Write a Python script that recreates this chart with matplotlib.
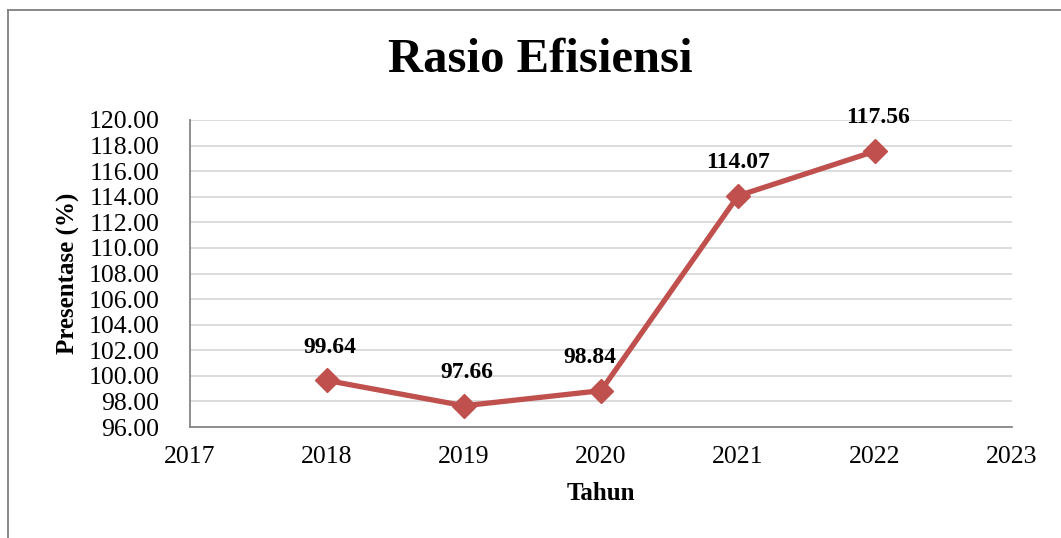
import matplotlib.pyplot as plt
from matplotlib.lines import Line2D

# data
years = [2018, 2019, 2020, 2021, 2022]
rasio = [99.64, 97.66, 98.84, 114.07, 117.56]
labels = ['99.64', '97.66', '98.84', '114.07', '117.56']
x_ticks = [2017, 2018, 2019, 2020, 2021, 2022, 2023]
y_ticks = [96, 98, 100, 102, 104, 106, 108, 110, 112, 114, 116, 118, 120]

plt.rcParams['font.family'] = ['Liberation Serif', 'DejaVu Serif']

fig = plt.figure(figsize=(10.61, 5.38), dpi=100)
ax = fig.add_axes([190 / 1061, 1 - 427 / 538, (1012 - 190) / 1061, (427 - 120) / 538])

ax.plot(years, rasio, color='#C0504D', linewidth=3.8, marker='D', markersize=12, zorder=3)
# small nudges so labels sit like the original
nudge = [2, 2, -8, 0, 2]
for x, y, s, dx in zip(years, rasio, labels, nudge):
    ax.annotate(s, (x, y), xytext=(dx, 24), textcoords='offset points',
                ha='center', va='center', fontsize=17, fontweight='bold')

ax.set_xlim(2017, 2023)
ax.set_ylim(96, 120)
ax.set_xticks(x_ticks)
ax.set_yticks(y_ticks)
ax.set_yticklabels([f'{v:.2f}' for v in y_ticks])
ax.tick_params(axis='both', length=0, labelsize=18.5)
ax.tick_params(axis='y', pad=22)
ax.tick_params(axis='x', pad=14)
ax.grid(axis='y', color='#D9D9D9', linewidth=1.3)
ax.set_axisbelow(True)
for side in ['top', 'right']:
    ax.spines[side].set_visible(False)
for side in ['left', 'bottom']:
    ax.spines[side].set_color('#868686')
    ax.spines[side].set_linewidth(1.3)

ax.set_xlabel('Tahun', fontsize=18, fontweight='bold', labelpad=10)
ax.set_ylabel('Presentase (%)', fontsize=18, fontweight='bold', labelpad=6)
fig.text(540 / 1061, 1 - 60 / 538, 'Rasio Efisiensi', ha='center', va='center',
         fontsize=35, fontweight='bold')

# outer frame (left and top only visible)
fig.add_artist(Line2D([8 / 1061, 8 / 1061], [0, 1 - 10 / 538], transform=fig.transFigure,
                      color='#7F7F7F', linewidth=1.3))
fig.add_artist(Line2D([8 / 1061, 1], [1 - 10 / 538, 1 - 10 / 538], transform=fig.transFigure,
                      color='#7F7F7F', linewidth=1.3))

fig.savefig('out.png', dpi=100)
